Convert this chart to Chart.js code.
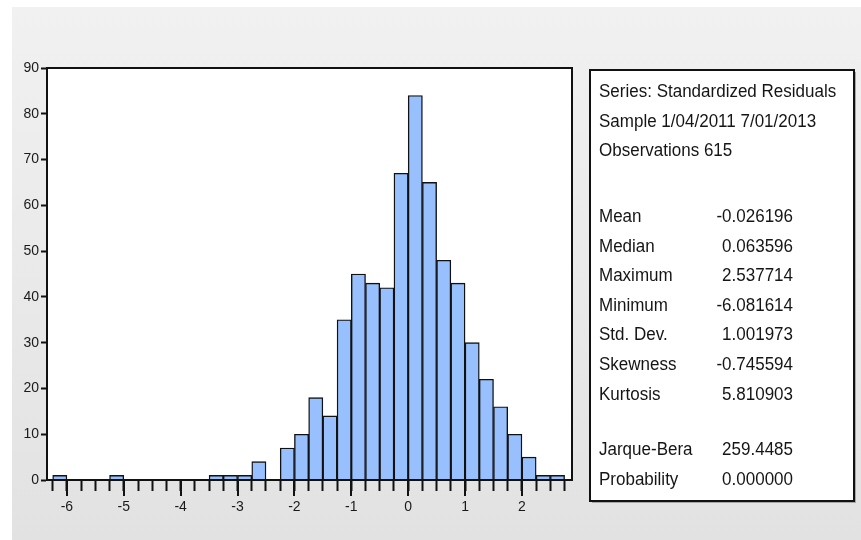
<!DOCTYPE html>
<html>
<head>
<meta charset="utf-8">
<script src="https://cdn.jsdelivr.net/npm/chart.js@4.4.0/dist/chart.umd.min.js"></script>
<style>
  html, body { margin: 0; padding: 0; background: #ffffff; }
  #wrap { width: 861px; height: 540px; position: relative; }
</style>
</head>
<body>
<div id="wrap"><canvas id="hist" width="861" height="540"></canvas></div>
<script>
// Histogram of standardized residuals: bin centres (bin width 0.25) and counts
const binCenters = [-6.125, -5.125, -3.375, -3.125, -2.875, -2.625, -2.125, -1.875, -1.625, -1.375,
                    -1.125, -0.875, -0.625, -0.375, -0.125, 0.125, 0.375, 0.625, 0.875, 1.125,
                    1.375, 1.625, 1.875, 2.125, 2.375, 2.625];
const binCounts  = [1, 1, 1, 1, 1, 4, 7, 10, 18, 14,
                    35, 45, 43, 42, 67, 84, 65, 48, 43, 30,
                    22, 16, 10, 5, 1, 1];

// Axis ticks
const xTickLabels = [-6, -5, -4, -3, -2, -1, 0, 1, 2];
const xMinorTicks = [-6.25, -6, -5.75, -5.5, -5.25, -5, -4.75, -4.5, -4.25, -4, -3.75, -3.5, -3.25,
                     -3, -2.75, -2.5, -2.25, -2, -1.75, -1.5, -1.25, -1, -0.75, -0.5, -0.25, 0,
                     0.25, 0.5, 0.75, 1, 1.25, 1.5, 1.75, 2, 2.25, 2.5, 2.75];
const yTickValues = [0, 10, 20, 30, 40, 50, 60, 70, 80, 90];

// Descriptive statistics panel
const statsHeader = ['Series: Standardized Residuals', 'Sample 1/04/2011 7/01/2013', 'Observations 615'];
const statNames   = ['Mean', 'Median', 'Maximum', 'Minimum', 'Std. Dev.', 'Skewness', 'Kurtosis'];
const statValues  = ['-0.026196', '0.063596', '2.537714', '-6.081614', '1.001973', '-0.745594', '5.810903'];
const testNames   = ['Jarque-Bera', 'Probability'];
const testValues  = ['259.4485', '0.000000'];

const FONT = '"Liberation Sans", Arial, sans-serif';

const backdrop = {
  id: 'backdrop',
  beforeDraw(chart) {
    const { ctx, width, height, chartArea: a } = chart;
    ctx.save();
    ctx.fillStyle = '#ffffff';
    ctx.fillRect(0, 0, width, height);
    const g = ctx.createLinearGradient(0, 7, 0, height);
    g.addColorStop(0, '#f1f1f1');
    g.addColorStop(1, '#e2e2e2');
    ctx.fillStyle = g;
    ctx.fillRect(12, 7, width - 12, height - 7);
    ctx.fillStyle = '#ffffff';
    ctx.fillRect(a.left, a.top, a.right - a.left, a.bottom - a.top);
    ctx.restore();
  }
};

const frameAndPanel = {
  id: 'frameAndPanel',
  afterDraw(chart) {
    const { ctx, chartArea: a } = chart;
    const xs = chart.scales.x;
    ctx.save();
    // plot frame
    ctx.strokeStyle = '#111';
    ctx.lineWidth = 2;
    ctx.strokeRect(a.left, a.top, a.right - a.left, a.bottom - a.top);
    // longer ticks at the labelled integers
    ctx.beginPath();
    xTickLabels.forEach(v => {
      const px = Math.round(xs.getPixelForValue(v));
      ctx.moveTo(px, a.bottom);
      ctx.lineTo(px, a.bottom + 16);
    });
    ctx.stroke();

    // statistics box
    const bx = 590, by = 70, bw = 264, bh = 431;
    ctx.fillStyle = '#a8a8a8';
    ctx.fillRect(bx + 2, by + 2, bw, bh);
    ctx.fillStyle = '#ffffff';
    ctx.fillRect(bx, by, bw, bh);
    ctx.strokeStyle = '#111';
    ctx.lineWidth = 2;
    ctx.strokeRect(bx, by, bw, bh);

    ctx.fillStyle = '#151515';
    ctx.font = '17px ' + FONT;
    ctx.textBaseline = 'alphabetic';
    const put = (text, x, y, align) => {
      ctx.save();
      ctx.textAlign = align;
      ctx.translate(x, y);
      ctx.scale(1, 1.1);
      ctx.fillText(text, 0, 0);
      ctx.restore();
    };
    const labelX = 599, valueX = 793, lh = 29.6;
    statsHeader.forEach((t, i) => put(t, labelX, 97 + i * lh, 'left'));
    statNames.forEach((t, i) => {
      put(t, labelX, 222 + i * lh, 'left');
      put(statValues[i], valueX, 222 + i * lh, 'right');
    });
    testNames.forEach((t, i) => {
      put(t, labelX, 455 + i * lh, 'left');
      put(testValues[i], valueX, 455 + i * lh, 'right');
    });
    ctx.restore();
  }
};

new Chart(document.getElementById('hist'), {
  type: 'bar',
  data: {
    datasets: [{
      data: binCenters.map((c, i) => ({ x: c, y: binCounts[i] })),
      backgroundColor: '#98c0fe',
      borderColor: '#111111',
      borderWidth: 1.4,
      barPercentage: 1,
      categoryPercentage: 1
    }]
  },
  options: {
    responsive: false,
    animation: false,
    layout: { padding: { left: 0, top: 68, right: 289, bottom: 0 } },
    plugins: { legend: { display: false }, tooltip: { enabled: false } },
    scales: {
      x: {
        type: 'linear',
        offset: false,
        min: -6.35,
        max: 2.88,
        afterBuildTicks(scale) { scale.ticks = xMinorTicks.map(v => ({ value: v })); },
        afterFit(scale) { scale.height = 60; },
        ticks: {
          autoSkip: false,
          maxRotation: 0,
          padding: 8,
          color: '#1a1a1a',
          font: { family: FONT, size: 14 },
          callback: v => (xTickLabels.includes(v) ? String(v) : '')
        },
        grid: { offset: false, drawOnChartArea: false, drawTicks: true, tickLength: 11, tickWidth: 2, tickColor: '#111' },
        border: { display: true, color: '#111', width: 2 }
      },
      y: {
        min: 0,
        max: 90,
        afterBuildTicks(scale) { scale.ticks = yTickValues.map(v => ({ value: v })); },
        afterFit(scale) { scale.width = 47; },
        ticks: {
          padding: 2,
          color: '#1a1a1a',
          font: { family: FONT, size: 14 }
        },
        grid: { drawOnChartArea: false, drawTicks: true, tickLength: 6, tickWidth: 2, tickColor: '#111' },
        border: { display: true, color: '#111', width: 2 }
      }
    }
  },
  plugins: [backdrop, frameAndPanel]
});
</script>
</body>
</html>
